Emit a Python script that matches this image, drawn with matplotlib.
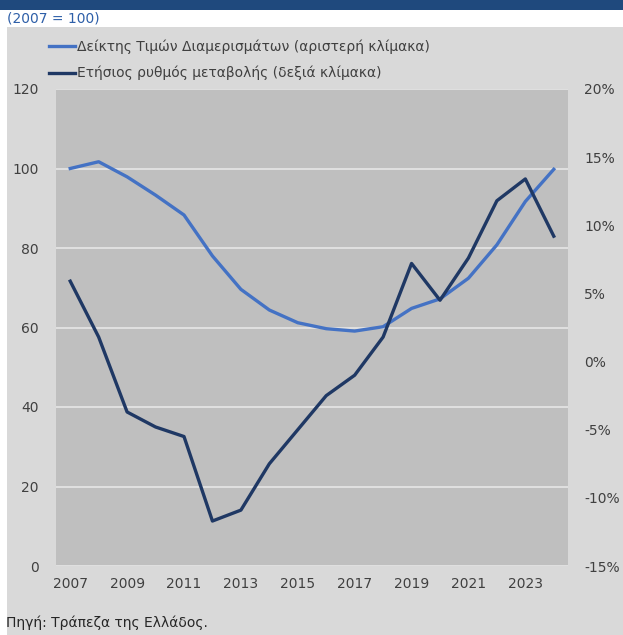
"""Greek apartment price index vs. annual rate of change, dual axis."""

import matplotlib

matplotlib.use("Agg")
import matplotlib.pyplot as plt
from matplotlib.patches import Rectangle
from matplotlib.ticker import FuncFormatter

years = list(range(2007, 2025))
price_index = [100.0, 101.7, 97.9, 93.3, 88.3, 78.0, 69.6, 64.4, 61.2, 59.7,
               59.1, 60.2, 64.8, 67.2, 72.4, 80.8, 91.7, 99.8]
annual_change = [5.9, 1.8, -3.7, -4.8, -5.5, -11.7, -10.9, -7.5, -5.0, -2.5,
                 -1.0, 1.8, 7.2, 4.5, 7.6, 11.8, 13.4, 9.2]
xtick_years = list(range(2007, 2024, 2))

label_index = "Δείκτης Τιμών Διαμερισμάτων (αριστερή κλίμακα)"
label_change = "Ετήσιος ρυθμός μεταβολής (δεξιά κλίμακα)"

BLUE = "#4472c4"
DARK = "#1f3864"
PLOT_BG = "#bfbfbf"
FIG_BG = "#d9d9d9"
TEXT = "#404040"
FS = 10

plt.rcParams["font.family"] = ["DejaVu Sans"]

W, H = 623, 635
PT = 0.72  # points per pixel at dpi 100
fig = plt.figure(figsize=(W / 100, H / 100), dpi=100)
fig.patch.set_facecolor("white")

# page background pieces: gray panel and blue banner
fig.add_artist(Rectangle((7 / W, 0), 1 - 7 / W, (H - 27) / H, transform=fig.transFigure,
                         facecolor=FIG_BG, edgecolor="none", zorder=-10))
fig.add_artist(Rectangle((0, (H - 10) / H), 1, 10 / H, transform=fig.transFigure,
                         facecolor="#1f497d", edgecolor="none", zorder=-10))

ax = fig.add_axes([56 / W, (H - 566) / H, (568 - 56) / W, (566 - 89) / H])
ax.set_facecolor(PLOT_BG)
ax2 = ax.twinx()

l1, = ax.plot(years, price_index, color=BLUE, lw=2.4, zorder=3)
l2, = ax2.plot(years, annual_change, color=DARK, lw=2.4, zorder=3)

ax.set_xlim(2006.5, 2024.5)
ax.set_ylim(0, 120)
ax.set_yticks(range(0, 121, 20))
ax2.set_ylim(-15, 20)
ax2.set_yticks(range(-15, 21, 5))
ax2.yaxis.set_major_formatter(FuncFormatter(lambda v, _: f"{v:.0f}%"))
ax.set_xticks(xtick_years)

ax.grid(axis="y", color="#e6e6e6", lw=1.2)
ax.set_axisbelow(True)
for a in (ax, ax2):
    for s in a.spines.values():
        s.set_visible(False)
    a.tick_params(length=0, labelsize=FS, labelcolor=TEXT)
ax.tick_params(axis="y", pad=17 * PT)
ax.tick_params(axis="x", pad=11 * PT)
ax2.tick_params(axis="y", pad=16 * PT)

fig.legend([l1, l2], [label_index, label_change], loc="upper left",
           bbox_to_anchor=(49 / W, 1 - 39 / H), frameon=False, fontsize=FS,
           handlelength=1.9, handletextpad=0.1, labelspacing=0.9,
           borderaxespad=0, borderpad=0, labelcolor=TEXT)

fig.text(7 / W, 1 - 19 / H, "(2007 = 100)", color="#2e5fa8", fontsize=FS, va="center")
fig.text(6 / W, 1 - 623 / H, "Πηγή: Τράπεζα της Ελλάδος.", color="#262626",
         fontsize=FS, va="center")

fig.savefig("out.png", dpi=100, facecolor=fig.get_facecolor())
